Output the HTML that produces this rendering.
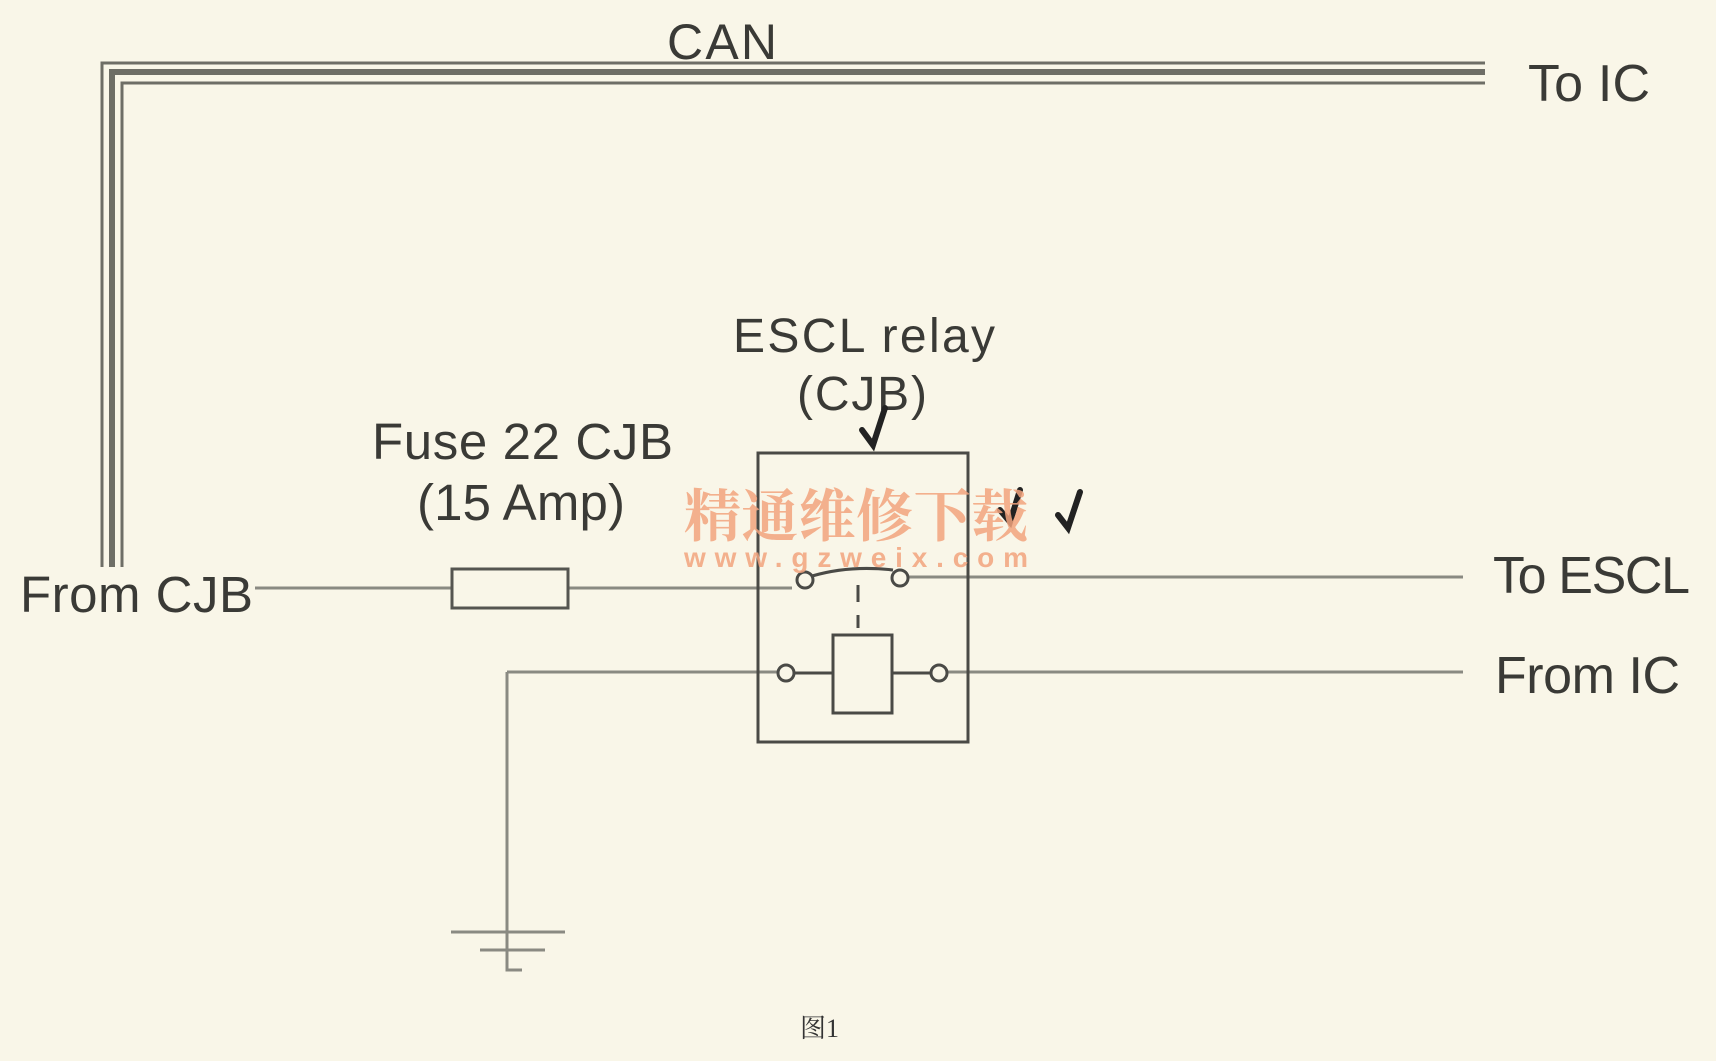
<!DOCTYPE html>
<html><head><meta charset="utf-8"><style>
html,body{margin:0;padding:0;background:#f9f6e8;}
svg{display:block}
text{font-family:"Liberation Sans",Arial,sans-serif;fill:#3a3a36}
</style></head><body>
<svg width="1716" height="1061" viewBox="0 0 1716 1061" xmlns="http://www.w3.org/2000/svg">
<rect width="1716" height="1061" fill="#f9f6e8"/>
<g stroke="#6e6e66" fill="none">
<polyline points="102,567 102,63 1485,63" stroke-width="3"/>
<polyline points="112,567 112,72 1485,72" stroke-width="6"/>
<polyline points="122,567 122,83 1485,83" stroke-width="3"/>
</g>
<text x="667" y="59" font-size="50" textLength="110">CAN</text>
<text x="1528" y="101" font-size="52" textLength="122">To IC</text>
<g stroke="#8a8a82" stroke-width="3" fill="none">
<line x1="255" y1="588" x2="452" y2="588"/>
<line x1="568" y1="588" x2="792" y2="588"/>
<line x1="908" y1="577" x2="1463" y2="577"/>
<line x1="507" y1="672" x2="777" y2="672"/>
<line x1="947" y1="672" x2="1463" y2="672"/>
<line x1="507" y1="672" x2="507" y2="965"/>
<line x1="451" y1="932" x2="565" y2="932"/>
<line x1="480" y1="950" x2="545" y2="950"/>
<polyline points="507,965 507,970 522,970"/>
</g>
<text x="20" y="612" font-size="51" textLength="233">From CJB</text>
<text x="1493" y="593" font-size="52" textLength="197">To ESCL</text>
<text x="1495" y="693" font-size="52" textLength="185">From IC</text>
<rect x="452" y="569" width="116" height="39" fill="none" stroke="#555550" stroke-width="3"/>
<text x="372" y="459" font-size="51" textLength="301">Fuse 22 CJB</text>
<text x="417" y="520" font-size="51" textLength="208">(15 Amp)</text>
<text x="733" y="352" font-size="48" textLength="262">ESCL relay</text>
<text x="797" y="410" font-size="48" textLength="130">(CJB)</text>
<rect x="758" y="453" width="210" height="289" fill="none" stroke="#4a4a46" stroke-width="3"/>
<g stroke="#4a4a46" stroke-width="3" fill="#f9f6e8">
<circle cx="805" cy="580" r="8"/>
<circle cx="900" cy="578" r="8"/>
<path d="M812,576 Q850,565 893,570" fill="none"/>
<line x1="858" y1="585" x2="858" y2="602" fill="none"/>
<line x1="858" y1="615" x2="858" y2="628" fill="none"/>
<circle cx="786" cy="673" r="8"/>
<circle cx="939" cy="673" r="8"/>
<line x1="794" y1="673" x2="833" y2="673"/>
<line x1="892" y1="673" x2="931" y2="673"/>
<rect x="833" y="635" width="59" height="78"/>
</g>
<g stroke="#222" stroke-width="6" fill="none" stroke-linecap="round">
<path d="M862,430 L873,445 L885,408"/>
<path d="M1000,510 L1010,522 L1020,490"/>
<path d="M1058,515 L1068,528 L1080,492"/>
</g>
<text x="684" y="536" font-size="57" textLength="344" style="font-family:'Noto Serif CJK SC','Noto Sans CJK SC',serif;font-weight:bold;fill:#f2a47e;opacity:0.85">精通维修下载</text>
<text x="684" y="567" font-size="28" font-weight="bold" textLength="344" style="fill:#f2a47e;opacity:0.85">www.gzweix.com</text>
<text x="800" y="1037" font-size="26" style="font-family:'Liberation Serif','Noto Serif CJK SC',serif;fill:#333">图1</text>
</svg>
</body></html>
